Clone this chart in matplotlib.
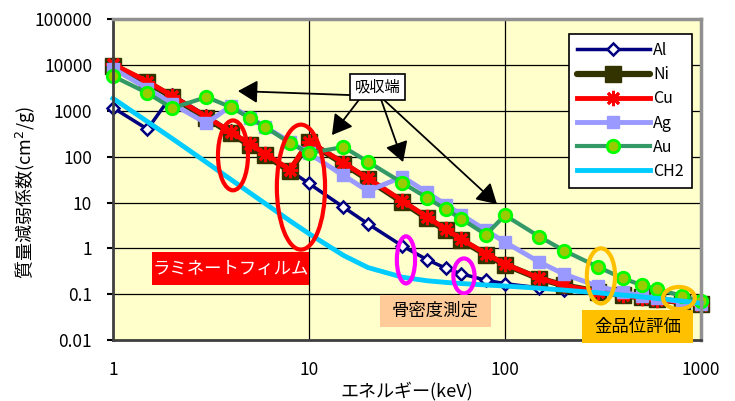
import numpy as np
import matplotlib.pyplot as plt
from matplotlib.patches import Ellipse, Rectangle

plt.rcParams['font.family'] = ['Noto Sans CJK JP', 'DejaVu Sans']

# photon energy (keV)
energy = [1, 1.5, 2, 3, 4, 5, 6, 8, 10, 15, 20, 30, 40, 50, 60, 80, 100,
          150, 200, 300, 400, 500, 600, 800, 1000]

# mass attenuation coefficients (cm2/g)
al = [1185, 402, 2263, 788, 360.5, 193.4, 115.3, 50.3, 26.2, 7.96, 3.44, 1.13,
      0.569, 0.368, 0.278, 0.202, 0.170, 0.138, 0.122, 0.104, 0.0928, 0.0845,
      0.0780, 0.0684, 0.0615]
ni = [9855, 4234, 2049, 709, 328, 179, 108.5, 49.2, 209, 70.6, 32.2, 10.3,
      4.60, 2.47, 1.51, 0.731, 0.444, 0.219, 0.156, 0.113, 0.0953, 0.0848,
      0.0774, 0.0671, 0.0600]
cu = [10570, 4418, 2154, 749, 347, 190, 115.6, 52.6, 216, 74.1, 33.8, 10.9,
      4.86, 2.61, 1.59, 0.763, 0.458, 0.222, 0.156, 0.112, 0.0941, 0.0836,
      0.0763, 0.0661, 0.0590]
ag = [8500, 3100, 1450, 540, 1300, 718, 445, 213, 118.5, 39.3, 17.9, 36.7,
      16.7, 9.01, 5.43, 2.47, 1.37, 0.501, 0.275, 0.148, 0.110, 0.0917,
      0.0811, 0.0685, 0.0601]
au = [5800, 2470, 1160, 2020, 1220, 703, 447, 200, 121, 164, 78, 27, 12.8,
      7.1, 4.4, 2.0, 5.3, 1.8, 0.90, 0.39, 0.222, 0.157, 0.128, 0.092, 0.070]
ch2 = [1894, 587, 253, 75.7, 31.9, 16.3, 9.46, 4.00, 2.10, 0.704, 0.382,
       0.235, 0.197, 0.181, 0.171, 0.159, 0.151, 0.135, 0.123, 0.107, 0.0957,
       0.0873, 0.0807, 0.0710, 0.0638]

x_ticks = [1, 10, 100, 1000]
x_labels = ['1', '10', '100', '1000']
y_ticks = [0.01, 0.1, 1, 10, 100, 1000, 10000, 100000]
y_labels = ['0.01', '0.1', '1', '10', '100', '1000', '10000', '100000']

fig = plt.figure(figsize=(7.35, 4.01), dpi=100)
ax = fig.add_axes([0.1537, 0.1521, 0.8, 0.7993])
ax.set_xscale('log')
ax.set_yscale('log')
ax.set_xlim(1, 1000)
ax.set_ylim(0.01, 100000)
ax.set_facecolor('#FFFFCC')
ax.minorticks_off()
ax.set_axisbelow(True)
ax.grid(True, color='black', lw=0.9)

ax.plot(energy, al, color='#000080', lw=2.5, marker='D', ms=6, mfc='white',
        mec='#000080', mew=1.8, label='Al', clip_on=False)
ax.plot(energy, ni, color='#333300', lw=4.5, marker='s', ms=11, mfc='#333300',
        mec='#333300', label='Ni', clip_on=False, solid_capstyle='round')
ax.plot(energy, cu, color='#FF0000', lw=3.5, marker=(8, 2, 0), ms=11,
        mec='#FF0000', mew=2, label='Cu', clip_on=False)
ax.plot(energy, ag, color='#9999FF', lw=3.5, marker='s', ms=8, mfc='#9999FF',
        mec='#9999FF', label='Ag', clip_on=False)
ax.plot(energy, au, color='#339966', lw=3, marker='o', ms=9, mfc='#99CC00',
        mec='#00FF00', mew=2, label='Au', clip_on=False)
ax.plot(energy, ch2, color='#00CCFF', lw=3.5, label='CH2', clip_on=False)

ax.set_xticks(x_ticks)
ax.set_xticklabels(x_labels)
ax.set_yticks(y_ticks)
ax.set_yticklabels(y_labels)
ax.tick_params(axis='x', length=0, pad=15, labelsize=12.5)
ax.tick_params(axis='y', length=4, width=1.5, pad=11, labelsize=12.5)

for side in ['left', 'bottom']:
    ax.spines[side].set_color('#404040')
    ax.spines[side].set_linewidth(2)
for side in ['top', 'right']:
    ax.spines[side].set_color('#909090')
    ax.spines[side].set_linewidth(2.5)

ax.set_xlabel('エネルギー(keV)', fontsize=13)
ax.set_ylabel('質量減弱係数(cm$^{2}$/g)', fontsize=13)
ax.xaxis.set_label_coords(0.5, -0.13)
ax.yaxis.set_label_coords(-0.128, 0.46)

leg = ax.legend(loc='upper right', bbox_to_anchor=(0.9847, 0.9548),
                borderaxespad=0, fontsize=11.5, frameon=True, fancybox=False,
                framealpha=1, edgecolor='black', handlelength=4.6,
                handletextpad=0.2, labelspacing=0.45, borderpad=0.5)
leg.get_frame().set_linewidth(1.2)

# absorption edge callouts
edge_tips = [(4.34, 2735), (13.1, 299), (30.2, 77), (91, 9.3)]
edge_starts = [(23.0, 2120), (18.6, 2120), (23.0, 2120), (23.0, 2120)]
for tip, start in zip(edge_tips, edge_starts):
    ax.annotate('', xy=tip, xytext=start,
                arrowprops=dict(arrowstyle='-|>,head_length=0.6,head_width=0.35',
                                mutation_scale=20, color='black', lw=1.3,
                                shrinkA=0, shrinkB=0), zorder=6)
ax.text(22.4, 3345, '吸収端', fontsize=11, ha='center', va='center', zorder=7,
        bbox=dict(boxstyle='square,pad=0.3', fc='white', ec='black', lw=1.2))

# highlighted regions
rings = [
    ((0.2041, 0.576), 0.051, 0.218, '#FF0000'),
    ((0.3197, 0.477), 0.082, 0.39, '#FF0000'),
    ((0.4983, 0.250), 0.031, 0.147, '#FF00FF'),
    ((0.5969, 0.200), 0.036, 0.109, '#FF00FF'),
    ((0.8299, 0.200), 0.048, 0.172, '#FFC000'),
    ((0.9626, 0.131), 0.054, 0.069, '#FFC000'),
]
for center, w, h, col in rings:
    ax.add_patch(Ellipse(center, w, h, transform=ax.transAxes, fill=False,
                         ec=col, lw=3, zorder=8, clip_on=False))

# application labels
tags = [
    (0.0663, 0.1716, 0.267, 0.103, '#FF0000', 'white', 'ラミネートフィルム'),
    (0.4541, 0.0406, 0.189, 0.100, '#FFCC99', 'black', '骨密度測定'),
    (0.7976, -0.0094, 0.189, 0.103, '#FFC000', 'black', '金品位評価'),
]
for x0, y0, w, h, fc, tc, txt in tags:
    ax.add_patch(Rectangle((x0, y0), w, h, transform=ax.transAxes, fc=fc,
                           ec='none', zorder=9, clip_on=False))
    ax.text(x0 + w / 2, y0 + h / 2, txt, transform=ax.transAxes, color=tc,
            fontsize=12.5, ha='center', va='center', zorder=10)

plt.savefig('out.png', dpi=100)
